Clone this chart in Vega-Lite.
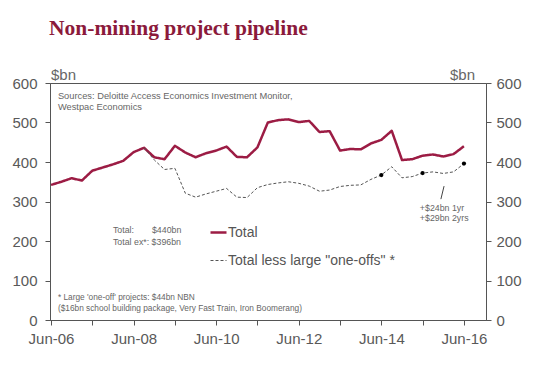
{
  "$schema": "https://vega.github.io/schema/vega-lite/v6.json",
  "width": 436,
  "height": 237,
  "autosize": {"type": "none"},
  "padding": {"left": 50, "top": 83, "right": 47, "bottom": 56},
  "background": "white",
  "config": {
    "font": "Liberation Sans",
    "view": {"stroke": "#555", "strokeWidth": 1},
    "axis": {
      "grid": false,
      "domainColor": "#555",
      "tickColor": "#555",
      "labelColor": "#595959",
      "labelFont": "Liberation Sans",
      "labelFontSize": 15,
      "tickSize": 5,
      "titleFont": "Liberation Sans",
      "titleFontWeight": "normal",
      "titleFontSize": 15,
      "titleColor": "#666"
    }
  },
  "title": {
    "text": "Non-mining project pipeline",
    "anchor": "start",
    "frame": "group",
    "font": "Liberation Serif",
    "fontSize": 21.5,
    "fontWeight": "bold",
    "color": "#8B1A3B",
    "baseline": "alphabetic",
    "offset": 11,
    "dx": -1
  },
  "data": {
    "values": [
      {"date": "2006-06-01", "series": "Total", "value": 342},
      {"date": "2006-09-01", "series": "Total", "value": 350},
      {"date": "2006-12-01", "series": "Total", "value": 359},
      {"date": "2007-03-01", "series": "Total", "value": 353},
      {"date": "2007-06-01", "series": "Total", "value": 378},
      {"date": "2007-09-01", "series": "Total", "value": 386},
      {"date": "2007-12-01", "series": "Total", "value": 394},
      {"date": "2008-03-01", "series": "Total", "value": 403},
      {"date": "2008-06-01", "series": "Total", "value": 425},
      {"date": "2008-09-01", "series": "Total", "value": 436},
      {"date": "2008-12-01", "series": "Total", "value": 412},
      {"date": "2009-03-01", "series": "Total", "value": 407},
      {"date": "2009-06-01", "series": "Total", "value": 441},
      {"date": "2009-09-01", "series": "Total", "value": 424},
      {"date": "2009-12-01", "series": "Total", "value": 412},
      {"date": "2010-03-01", "series": "Total", "value": 422},
      {"date": "2010-06-01", "series": "Total", "value": 429},
      {"date": "2010-09-01", "series": "Total", "value": 439},
      {"date": "2010-12-01", "series": "Total", "value": 413},
      {"date": "2011-03-01", "series": "Total", "value": 412},
      {"date": "2011-06-01", "series": "Total", "value": 437},
      {"date": "2011-09-01", "series": "Total", "value": 500},
      {"date": "2011-12-01", "series": "Total", "value": 506},
      {"date": "2012-03-01", "series": "Total", "value": 508},
      {"date": "2012-06-01", "series": "Total", "value": 501},
      {"date": "2012-09-01", "series": "Total", "value": 504},
      {"date": "2012-12-01", "series": "Total", "value": 476},
      {"date": "2013-03-01", "series": "Total", "value": 478},
      {"date": "2013-06-01", "series": "Total", "value": 429},
      {"date": "2013-09-01", "series": "Total", "value": 433},
      {"date": "2013-12-01", "series": "Total", "value": 432},
      {"date": "2014-03-01", "series": "Total", "value": 447},
      {"date": "2014-06-01", "series": "Total", "value": 456},
      {"date": "2014-09-01", "series": "Total", "value": 479},
      {"date": "2014-12-01", "series": "Total", "value": 405},
      {"date": "2015-03-01", "series": "Total", "value": 407},
      {"date": "2015-06-01", "series": "Total", "value": 416},
      {"date": "2015-09-01", "series": "Total", "value": 419},
      {"date": "2015-12-01", "series": "Total", "value": 414},
      {"date": "2016-03-01", "series": "Total", "value": 420},
      {"date": "2016-06-01", "series": "Total", "value": 440},
      {"date": "2008-09-01", "series": "Total less large \"one-offs\" *", "value": 436},
      {"date": "2008-12-01", "series": "Total less large \"one-offs\" *", "value": 405},
      {"date": "2009-03-01", "series": "Total less large \"one-offs\" *", "value": 381},
      {"date": "2009-06-01", "series": "Total less large \"one-offs\" *", "value": 384},
      {"date": "2009-09-01", "series": "Total less large \"one-offs\" *", "value": 321},
      {"date": "2009-12-01", "series": "Total less large \"one-offs\" *", "value": 311},
      {"date": "2010-03-01", "series": "Total less large \"one-offs\" *", "value": 319},
      {"date": "2010-06-01", "series": "Total less large \"one-offs\" *", "value": 326},
      {"date": "2010-09-01", "series": "Total less large \"one-offs\" *", "value": 333},
      {"date": "2010-12-01", "series": "Total less large \"one-offs\" *", "value": 311},
      {"date": "2011-03-01", "series": "Total less large \"one-offs\" *", "value": 310},
      {"date": "2011-06-01", "series": "Total less large \"one-offs\" *", "value": 335},
      {"date": "2011-09-01", "series": "Total less large \"one-offs\" *", "value": 343},
      {"date": "2011-12-01", "series": "Total less large \"one-offs\" *", "value": 347},
      {"date": "2012-03-01", "series": "Total less large \"one-offs\" *", "value": 350},
      {"date": "2012-06-01", "series": "Total less large \"one-offs\" *", "value": 346},
      {"date": "2012-09-01", "series": "Total less large \"one-offs\" *", "value": 339},
      {"date": "2012-12-01", "series": "Total less large \"one-offs\" *", "value": 326},
      {"date": "2013-03-01", "series": "Total less large \"one-offs\" *", "value": 329},
      {"date": "2013-06-01", "series": "Total less large \"one-offs\" *", "value": 338},
      {"date": "2013-09-01", "series": "Total less large \"one-offs\" *", "value": 341},
      {"date": "2013-12-01", "series": "Total less large \"one-offs\" *", "value": 342},
      {"date": "2014-03-01", "series": "Total less large \"one-offs\" *", "value": 356},
      {"date": "2014-06-01", "series": "Total less large \"one-offs\" *", "value": 367},
      {"date": "2014-09-01", "series": "Total less large \"one-offs\" *", "value": 388},
      {"date": "2014-12-01", "series": "Total less large \"one-offs\" *", "value": 360},
      {"date": "2015-03-01", "series": "Total less large \"one-offs\" *", "value": 363},
      {"date": "2015-06-01", "series": "Total less large \"one-offs\" *", "value": 372},
      {"date": "2015-09-01", "series": "Total less large \"one-offs\" *", "value": 375},
      {"date": "2015-12-01", "series": "Total less large \"one-offs\" *", "value": 371},
      {"date": "2016-03-01", "series": "Total less large \"one-offs\" *", "value": 375},
      {"date": "2016-06-01", "series": "Total less large \"one-offs\" *", "value": 396}
    ]
  },
  "encoding": {
    "x": {
      "field": "date",
      "type": "temporal",
      "title": null,
      "scale": {
        "type": "utc",
        "domain": [
          {"year": 2006, "month": 5, "date": 23, "utc": true},
          {"year": 2016, "month": 12, "date": 13, "utc": true}
        ]
      },
      "axis": {
        "values": [
          {"year": 2006, "month": 6, "date": 1, "utc": true},
          {"year": 2007, "month": 6, "date": 1, "utc": true},
          {"year": 2008, "month": 6, "date": 1, "utc": true},
          {"year": 2009, "month": 6, "date": 1, "utc": true},
          {"year": 2010, "month": 6, "date": 1, "utc": true},
          {"year": 2011, "month": 6, "date": 1, "utc": true},
          {"year": 2012, "month": 6, "date": 1, "utc": true},
          {"year": 2013, "month": 6, "date": 1, "utc": true},
          {"year": 2014, "month": 6, "date": 1, "utc": true},
          {"year": 2015, "month": 6, "date": 1, "utc": true},
          {"year": 2016, "month": 6, "date": 1, "utc": true}
        ],
        "labelExpr": "utcyear(datum.value) % 2 == 0 ? utcFormat(datum.value, '%b-%y') : ''",
        "labelPadding": 6,
        "labelFlush": false,
        "labelOverlap": false
      }
    },
    "y": {
      "field": "value",
      "type": "quantitative",
      "scale": {"domain": [0, 600], "nice": false},
      "axis": null
    }
  },
  "resolve": {"axis": {"y": "independent"}},
  "layer": [
    {
      "mark": {"type": "line", "strokeJoin": "round"},
      "encoding": {
        "y": {
          "field": "value",
          "type": "quantitative",
          "scale": {"domain": [0, 600], "nice": false},
          "axis": {
            "orient": "left",
            "values": [0, 100, 200, 300, 400, 500, 600],
            "labelPadding": 8,
            "title": "$bn",
            "titleAngle": 0,
            "titleX": 13,
            "titleY": -9,
            "titleAlign": "center",
            "titleBaseline": "middle"
          }
        },
        "color": {
          "field": "series",
          "type": "nominal",
          "scale": {"domain": ["Total", "Total less large \"one-offs\" *"], "range": ["#9C1C44", "#555555"]},
          "legend": {
            "title": null,
            "orient": "none",
            "legendX": 159,
            "legendY": 140,
            "padding": 0,
            "symbolType": "stroke",
            "symbolSize": 256,
            "labelFontSize": 14,
            "labelColor": "#555",
            "labelOffset": 0,
            "labelLimit": 400,
            "rowPadding": 12
          }
        },
        "strokeDash": {
          "field": "series",
          "type": "nominal",
          "scale": {"domain": ["Total", "Total less large \"one-offs\" *"], "range": [[1, 0], [3, 2]]},
          "legend": {
            "title": null,
            "orient": "none",
            "legendX": 159,
            "legendY": 140,
            "padding": 0,
            "symbolType": "stroke",
            "symbolSize": 256,
            "labelFontSize": 14,
            "labelColor": "#555",
            "labelOffset": 0,
            "labelLimit": 400,
            "rowPadding": 12
          }
        },
        "strokeWidth": {
          "field": "series",
          "type": "ordinal",
          "scale": {"domain": ["Total", "Total less large \"one-offs\" *"], "range": [2.5, 1]},
          "legend": {
            "title": null,
            "orient": "none",
            "legendX": 159,
            "legendY": 140,
            "padding": 0,
            "symbolType": "stroke",
            "symbolSize": 256,
            "labelFontSize": 14,
            "labelColor": "#555",
            "labelOffset": 0,
            "labelLimit": 400,
            "rowPadding": 12
          }
        }
      }
    },
    {
      "transform": [
        {"filter": "datum.series != 'Total' && utcmonth(datum.date) == 5 && utcyear(datum.date) >= 2014"}
      ],
      "mark": {"type": "point", "filled": true, "color": "black", "size": 18, "opacity": 1},
      "encoding": {
        "y": {
          "field": "value",
          "type": "quantitative",
          "scale": {"domain": [0, 600], "nice": false},
          "axis": {
            "orient": "right",
            "values": [0, 100, 200, 300, 400, 500, 600],
            "labelPadding": 5,
            "title": "$bn",
            "titleAngle": 0,
            "titleX": -24,
            "titleY": -9,
            "titleAlign": "center",
            "titleBaseline": "middle"
          }
        }
      }
    },
    {
      "data": {
        "values": [
          {"date": "2006-08-01", "value": 567, "label": "Sources: Deloitte Access Economics Investment Monitor,"},
          {"date": "2006-08-01", "value": 539, "label": "Westpac Economics"}
        ]
      },
      "mark": {"type": "text", "align": "left", "baseline": "middle", "fontSize": 9.3, "color": "#666"},
      "encoding": {"text": {"field": "label"}}
    },
    {
      "data": {
        "values": [
          {"date": "2007-12-01", "value": 228, "label": "Total:"},
          {"date": "2008-11-10", "value": 228, "label": "$440bn"},
          {"date": "2007-12-01", "value": 198, "label": "Total ex*: $396bn"},
          {"date": "2015-05-08", "value": 283, "label": "+$24bn 1yr"},
          {"date": "2015-05-08", "value": 258, "label": "+$29bn 2yrs"}
        ]
      },
      "mark": {"type": "text", "align": "left", "baseline": "middle", "fontSize": 8.8, "color": "#666"},
      "encoding": {"text": {"field": "label"}}
    },
    {
      "data": {
        "values": [
          {"date": "2006-08-01", "value": 56, "label": "* Large 'one-off' projects:  $44bn NBN"},
          {"date": "2006-08-01", "value": 29, "label": "($16bn school building package, Very Fast Train, Iron Boomerang)"}
        ]
      },
      "mark": {"type": "text", "align": "left", "baseline": "middle", "fontSize": 8.3, "color": "#666"},
      "encoding": {"text": {"field": "label"}}
    },
    {
      "data": {
        "values": [
          {"date": "2015-12-08", "value": 339, "date2": "2015-11-10", "value2": 306}
        ]
      },
      "mark": {"type": "rule", "color": "#444", "strokeWidth": 1},
      "encoding": {
        "x2": {"field": "date2"},
        "y2": {"field": "value2"}
      }
    }
  ]
}
